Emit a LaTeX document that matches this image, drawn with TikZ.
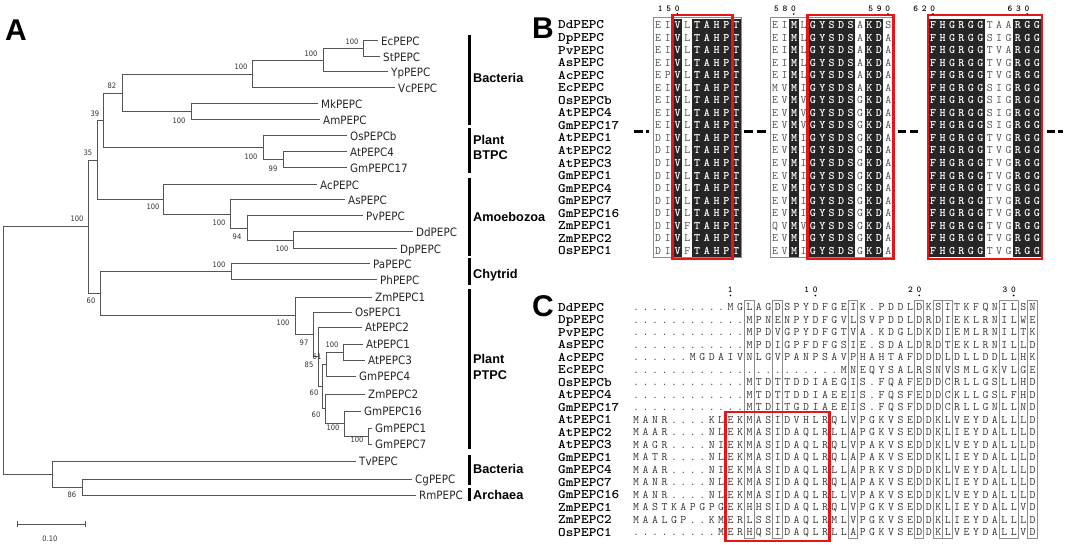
\documentclass[tikz,border=0pt]{standalone}
\usepackage{fontspec}
\usetikzlibrary{calc}
\setmainfont{Liberation Sans}
\newfontfamily\treefont{DejaVu Sans}[FakeStretch=0.9]
\definecolor{redbox}{RGB}{232,20,22}
\definecolor{seqgray}{RGB}{80,80,80}
\definecolor{brgray}{RGB}{85,85,85}
\definecolor{cellbk}{RGB}{38,38,38}
\newcount\seqi
\newcommand\seqtext[3]{\seqi=0 \def\sqdx{#1}\def\sqsel{#2}\expandafter\seqtexti#3\relax}
\def\seqtexti#1{\ifx#1\relax\else\sqsel\makebox[\sqdx pt]{\sqfmt #1}\advance\seqi by 1 \expandafter\seqtexti\fi}
\def\sqg{\def\sqfmt{\color{seqgray}\mdseries}}
\def\sqw{\def\sqfmt{\color{white}\bfseries}}
\def\selA{\ifcase\seqi\sqg\or\sqg\or\sqw\or\sqg\else\sqw\fi}
\def\selB{\ifcase\seqi\sqg\or\sqg\or\sqw\or\sqg\or\sqw\or\sqw\or\sqw\or\sqw\or\sqw\or\sqg\or\sqw\or\sqw\else\sqg\fi}
\def\selC{\ifnum\seqi<6 \sqw\else\ifnum\seqi<9 \sqg\else\sqw\fi\fi}
\def\selG{\def\sqfmt{\color{black!78}}}
\def\selK{\def\sqfmt{}}
\newcommand\wname[1]{\scalebox{1.12}[1]{#1}}
\tikzset{
  br/.style={draw=brgray, line width=1pt},
  leaf/.style={anchor=base west, inner sep=0pt, xshift=3pt, yshift=-4.2pt, text=black!85, font=\treefont\fontsize{11.5}{11.5}\selectfont},
  boot/.style={inner sep=0pt, text=black!80, font=\treefont\fontsize{7.5}{7.5}\selectfont},
  grp/.style={anchor=base west, inner sep=0pt, font=\bfseries\fontsize{12.7}{13}\selectfont},
  grpbar/.style={line width=3pt, draw=black},
  panel/.style={inner sep=0pt, font=\bfseries\fontsize{30}{30}\selectfont},
  sname/.style={anchor=base west, inner sep=0pt, font=\ttfamily\bfseries\fontsize{13}{13}\selectfont},
  seq/.style={anchor=base west, inner sep=0pt, font=\ttfamily\fontsize{11.5}{11.5}\selectfont},
  num/.style={anchor=base east, inner sep=0pt, font=\ttfamily\bfseries\fontsize{9}{9}\selectfont},
  redframe/.style={draw=redbox, line width=2.8pt},
  gframe/.style={draw=black!45, line width=0.9pt},
  cell/.style={fill=cellbk},
  gapdash/.style={line width=3pt, draw=black}
}
\begin{document}
\begin{tikzpicture}[x=1pt,y=-1pt]
\useasboundingbox (0,0) rectangle (1065,545);
\fill[white] (0,0) rectangle (1065,545);

% ---------- panel letters
\node[panel] (pA) at (16,30) {A};
\node[panel] (pB) at (543,28) {B};
\node[panel] (pC) at (543,306) {C};

% ---------- tree: leaves
\foreach \n/\x/\y/\t in {Ec/378/41/EcPEPC, St/380/57/StPEPC, Yp/388/72/YpPEPC, Vc/395/88/VcPEPC,
  Mk/318/104/MkPEPC, Am/320/120/AmPEPC, OsB/347/136/OsPEPCb, AtF/347/152/AtPEPC4, GmS/347/168/GmPEPC17,
  Ac/317/185/AcPEPC, As/345/200/AsPEPC, Pv/363/216/PvPEPC, Dd/413/232/DdPEPC, Dp/397/249/DpPEPC,
  Pa/370/264/PaPEPC, Ph/377/280/PhPEPC, ZmA/372/297/ZmPEPC1, OsA/352/312/OsPEPC1, AtB/362/327/AtPEPC2,
  AtA/363/344/AtPEPC1, AtC/365/360/AtPEPC3, GmD/356/376/GmPEPC4, ZmB/365/394/ZmPEPC2, GmP/361/411/GmPEPC16,
  GmA/372/428/GmPEPC1, GmG/372/444/GmPEPC7, Tv/356/461/TvPEPC, Cg/412/479/CgPEPC, Rm/416/495/RmPEPC}
{
  \coordinate (\n) at (\x,\y);
  \node[leaf] (L-\n) at (\n) {\t};
}
% internal nodes
\foreach \n/\x/\y in {n3/363/49, n2/323/60.5, n1/252/74.25, n5/191/112, n4/122/93.1, n8/283/160,
  n7/263/148, n6/103/120.6, n14/293/240.5, n13/247/228.25, n12/230/214.1, n11/163/199.6, n9/97/160.1,
  n15/231/272, n26/368/436, n25/344/423.5, n22/325/408.75, n23/343/352, n21/326/364, n20/322/386.4,
  n19/318/356.7, n18/313/334.3, n17/295/315.7, n16/100/293.8, n10/88/227, n27/82/487, n28/52/474, root/3/350.5}
  \coordinate (\n) at (\x,\y);
\foreach \p/\a/\b in {n3/Ec/St, n2/n3/Yp, n1/n2/Vc, n5/Mk/Am, n4/n1/n5, n8/AtF/GmS, n7/OsB/n8, n6/n4/n7,
  n14/Dd/Dp, n13/Pv/n14, n12/As/n13, n11/Ac/n12, n9/n6/n11, n15/Pa/Ph, n26/GmA/GmG, n25/GmP/n26,
  n22/ZmB/n25, n23/AtA/AtC, n21/n23/GmD, n20/n21/n22, n19/AtB/n20, n18/OsA/n19, n17/ZmA/n18,
  n16/n15/n17, n10/n9/n16, n27/Cg/Rm, n28/Tv/n27, root/n10/n28}
  \draw[br] (\p) |- (\a) (\p) |- (\b);
% bootstrap values
\foreach \t/\x/\y [count=\i] in {100/352/42, 100/311/54, 100/241/67, 82/112/86, 100/179/121, 39/95/114,
  100/251/157, 99/273/169, 35/88/153, 100/77/219, 100/153/207, 100/219/223, 94/237/237, 100/282/249,
  100/219/265, 60/91/301, 100/283/323, 97/304/343, 61/317/357, 85/309/365, 60/314/393, 60/316/415,
  100/333/428, 100/357/440, 100/332/345, 86/72/495}
  \node[boot] (bs\i) at (\x,\y) {\t};
% scale bar
\coordinate (sb1) at (17,524);
\coordinate (sb2) at (85,524);
\draw[br] (sb1) -- (sb2);
\draw[br] ($(sb1)+(0,-3)$) -- ($(sb1)+(0,3)$);
\draw[br] ($(sb2)+(0,-3)$) -- ($(sb2)+(0,3)$);
\node[boot] (sbl) at (50,539) {0.10};

% group bars and labels
\foreach \a/\b in {35/125, 128/173, 178/256, 258/285, 289/449, 455/485, 488/501}
  \draw[grpbar] (469,\a) -- (469,\b);
\foreach \t/\y [count=\i] in {Bacteria/78, Plant/140, BTPC/155, Amoebozoa/217, Chytrid/274, Plant/359, PTPC/375, Bacteria/469, Archaea/495}
  \node[grp] (g\i) at (473,{\y+4.55}) {\t};

% ---------- panel B
\foreach \t [count=\i from 0] in {DdPEPC,DpPEPC,PvPEPC,AsPEPC,AcPEPC,EcPEPC,OsPEPCb,AtPEPC4,GmPEPC17,AtPEPC1,AtPEPC2,AtPEPC3,GmPEPC1,GmPEPC4,GmPEPC7,GmPEPC16,ZmPEPC1,ZmPEPC2,OsPEPC1}
{
  \node[sname] (bn\i) at (558,{25+12.55*\i+4}) {\wname{\t}};
  \node[sname] (cn\i) at (558,{307+12.5*\i+4}) {\wname{\t}};
}
% dark cells
\fill[cell] (672.6,18.7) rectangle (682.4,257.3);
\fill[cell] (692.1,18.7) rectangle (741.1,257.3);
\fill[cell] (789.1,18.7) rectangle (798.5,257.3);
\fill[cell] (808.0,18.7) rectangle (855.1,257.3);
\fill[cell] (864.5,18.7) rectangle (883.4,257.3);
\fill[cell] (928.3,18.7) rectangle (984.8,257.3);
\fill[cell] (1013.1,18.7) rectangle (1041.3,257.3);
% block frames
\draw[gframe] (653.1,17) rectangle (741.1,257.8);
\draw[gframe] (770.3,17) rectangle (892.7,257.8);
% sequences
\foreach \s [count=\i from 0] in {EIVLTAHPT,EIVLTAHPT,EIVLTAHPT,EIVLTAHPT,EPVLTAHPT,EIVLTAHPT,EIVLTAHPT,EIVLTAHPT,EIVLTAHPT,DIVLTAHPT,DIVLTAHPT,DIVLTAHPT,DIVLTAHPT,DIVLTAHPT,DIVLTAHPT,DIVLTAHPT,DIVFTAHPT,DIVLTAHPT,DIVFTAHPT}
  \node[seq] (ba\i) at (653.125,{25+12.55*\i+3.5}) {\seqtext{9.75}{\selA}{\s}};
\foreach \s [count=\i from 0] in {EIMLGYSDSAKDS,EIMLGYSDSAKDA,EIMLGYSDSAKDA,EIMLGYSDSAKDA,EIMLGYSDSAKDA,MVMIGYSDSAKDA,EVMVGYSDSGKDA,EVMVGYSDSGKDA,EVMVGYSDSGKDA,EVMIGYSDSGKDA,EVMIGYSDSGKDA,EVMIGYSDSGKDA,EVMIGYSDSGKDA,EVMIGYSDSGKDA,EVMIGYSDSGKDA,EVMIGYSDSGKDA,QVMVGYSDSGKDA,EVMIGYSDSGKDA,EVMIGYSDSGKDA}
  \node[seq] (bb\i) at (770.29,{25+12.55*\i+3.5}) {\seqtext{9.42}{\selB}{\s}};
\foreach \s [count=\i from 0] in {FHGRGGTAARGG,FHGRGGSIGRGG,FHGRGGTVARGG,FHGRGGTVGRGG,FHGRGGTVGRGG,FHGRGGSIGRGG,FHGRGGSIGRGG,FHGRGGSIGRGG,FHGRGGSIGRGG,FHGRGGTVGRGG,FHGRGGTVGRGG,FHGRGGTVGRGG,FHGRGGTVGRGG,FHGRGGTVGRGG,FHGRGGTVGRGG,FHGRGGTVGRGG,FHGRGGTVGRGG,FHGRGGTVGRGG,FHGRGGTVGRGG}
  \node[seq] (bc\i) at (928.29,{25+12.55*\i+3.5}) {\seqtext{9.42}{\selC}{\s}};
% red boxes
\draw[redframe] (672.6,15) rectangle (732.5,259);
\draw[redframe] (807.5,15) rectangle (893.5,259);
\draw[redframe] (928,15) rectangle (1042,259);
% numbering
\foreach \t/\x [count=\i] in {150/677.5, 580/793.8, 590/888, 620/933, 630/1027.2}
{
  \node[num] (bnum\i) at ({\x+4.25},11.5) {\seqtext{8.5}{\selK}{\t}};
  \fill (\x,14) circle (0.9);
}
% gap dashes
\draw[gapdash] (634,132) -- (643,132);
\draw[gapdash] (646,132) -- (648.5,132);
\draw[gapdash] (744,132) -- (753,132);
\draw[gapdash] (757,132) -- (766,132);
\draw[gapdash] (898,132) -- (906,132);
\draw[gapdash] (910,132) -- (918,132);
\draw[gapdash] (1047,132) -- (1055,132);
\draw[gapdash] (1058,132) -- (1063,132);

% ---------- panel C
\foreach \a/\b in {12/12,15/15,23/23,30/30,32/32,33/33,39/40,42/42}
  \draw[gframe] ({636+9.44*\a-4.72},300.5) rectangle ({636+9.44*\b+4.72},538.5);
\node[seq] (cs0) at (631.28,310.5) {\seqtext{9.44}{\selG}{..........MGLAGDSPYDFGEIK.PDDLDKSITKFQNILSN}};
\node[seq] (cs1) at (631.28,323) {\seqtext{9.44}{\selG}{............MPNENPYDFGVLSVPDDLDRDIEKLRNILWE}};
\node[seq] (cs2) at (631.28,335.5) {\seqtext{9.44}{\selG}{............MPDVGPYDFGTVA.KDGLDKDIEMLRNILTK}};
\node[seq] (cs3) at (631.28,348) {\seqtext{9.44}{\selG}{............MPDIGPFDFGSIE.SDALDRDTEKLRNILLD}};
\node[seq] (cs4) at (631.28,360.5) {\seqtext{9.44}{\selG}{......MGDAIVNLGVPANPSAVPHAHTAFDDDLDLLDDLLHK}};
\node[seq] (cs5) at (631.28,373) {\seqtext{9.44}{\selG}{......................MNEQYSALRSNVSMLGKVLGE}};
\node[seq] (cs6) at (631.28,385.5) {\seqtext{9.44}{\selG}{............MTDTTDDIAEGIS.FQAFEDDCRLLGSLLHD}};
\node[seq] (cs7) at (631.28,398) {\seqtext{9.44}{\selG}{............MTDTTDDIAEEIS.FQSFEDDCKLLGSLFHD}};
\node[seq] (cs8) at (631.28,410.5) {\seqtext{9.44}{\selG}{............MTDITGDIAEEIS.FQSFDDDCRLLGNLLND}};
\node[seq] (cs9) at (631.28,423) {\seqtext{9.44}{\selG}{MANR....KLEKMASIDVHLRQLVPGKVSEDDKLVEYDALLLD}};
\node[seq] (cs10) at (631.28,435.5) {\seqtext{9.44}{\selG}{MAAR....NLEKMASIDAQLRLLAPGKVSEDDKLIEYDALLLD}};
\node[seq] (cs11) at (631.28,448) {\seqtext{9.44}{\selG}{MAGR....NIEKMASIDAQLRQLVPAKVSEDDKLVEYDALLLD}};
\node[seq] (cs12) at (631.28,460.5) {\seqtext{9.44}{\selG}{MATR....NLEKMASIDAQLRQLAPAKVSEDDKLIEYDALLLD}};
\node[seq] (cs13) at (631.28,473) {\seqtext{9.44}{\selG}{MAAR....NIEKMASIDAQLRLLAPRKVSDDDKLVEYDALLLD}};
\node[seq] (cs14) at (631.28,485.5) {\seqtext{9.44}{\selG}{MANR....NLEKMASIDAQLRQLAPAKVSEDDKLIEYDALLLD}};
\node[seq] (cs15) at (631.28,498) {\seqtext{9.44}{\selG}{MANR....NLEKMASIDAQLRLLVPAKVSEDDKLVEYDALLLD}};
\node[seq] (cs16) at (631.28,510.5) {\seqtext{9.44}{\selG}{MASTKAPGPGEKHHSIDAQLRQLVPGKVSEDDKLIEYDALLVD}};
\node[seq] (cs17) at (631.28,523) {\seqtext{9.44}{\selG}{MAALGP..KMERLSSIDAQLRMLVPGKVSEDDKLIEYDALLLD}};
\node[seq] (cs18) at (631.28,535.5) {\seqtext{9.44}{\selG}{.........MERHQSIDAQLRLLAPGKVSEDDKLVEYDALLVD}};
\draw[redframe] ({636+9.44*10-4.72},412) rectangle ({636+9.44*20+4.72},541);
\foreach \t/\c [count=\i] in {1/10, 10/19, 20/30, 30/40}
{
  \node[num] (cnum\i) at ({636+9.44*\c+4.25},292) {\seqtext{8.5}{\selK}{\t}};
  \fill ({636+9.44*\c},295.5) circle (0.9);
}
\end{tikzpicture}
\end{document}
